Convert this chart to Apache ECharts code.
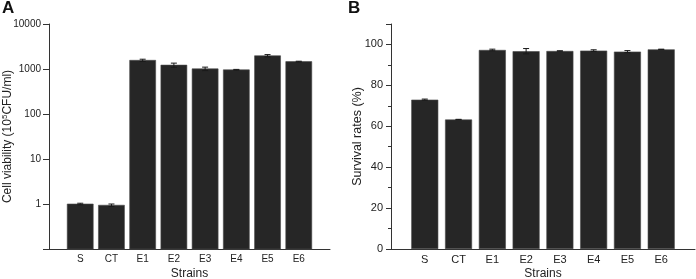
<!DOCTYPE html>
<html>
<head>
<meta charset="utf-8">
<script src="https://cdn.jsdelivr.net/npm/echarts@6/dist/echarts.min.js"></script>
<style>
  html, body { margin: 0; padding: 0; background: #fff; }
  #chart { width: 696px; height: 279px; }
</style>
</head>
<body>
<div id="chart"></div>
<script>
    // strains on the x axis, drawn at positions 1..8
    const strains = ['S', 'CT', 'E1', 'E2', 'E3', 'E4', 'E5', 'E6']
    // panel A: cell viability (10^5 CFU/ml), log scale
    const viability = [1.0, 0.94, 1560, 1220, 1010, 960, 1970, 1460]
    const viabilityErr = [0.04, 0.06, 90, 130, 90, 20, 120, 30]
    // panel B: survival rates (%)
    const survival = [73.0, 63.3, 97.3, 96.7, 96.8, 97.0, 96.5, 97.6]
    const survivalErr = [0.3, 0.1, 0.4, 1.3, 0.1, 0.4, 0.5, 0.1]

    const font = 'Liberation Sans, Arial, sans-serif'
    const barColor = '#262626'
    const logMin = 0.1

    let chart = echarts.init(document.getElementById('chart'))

    let barData = (vals) => vals.map((v, i) => [i + 1, v])
    let errData = (vals, errs) => vals.map((v, i) => [i + 1, v - errs[i], v + errs[i]])

    // bars on the log axis have to start at the bottom of the axis, not at 1
    let logBarRender = (params, api) => {
        let x = api.value(0)
        let top = api.coord([x, api.value(1)])
        let base = api.coord([x, logMin])
        let w = 26
        return {
            type: 'rect',
            shape: { x: top[0] - w / 2, y: top[1], width: w, height: base[1] - top[1] },
            style: { fill: barColor, stroke: '#4a4a4a', lineWidth: 0.6 }
        }
    }

    // error bars with small caps
    let errRender = (params, api) => {
        let x = api.value(0)
        let lo = api.coord([x, api.value(1)])
        let hi = api.coord([x, api.value(2)])
        let cap = 3
        let style = { stroke: '#1a1a1a', lineWidth: 1 }
        return {
            type: 'group',
            children: [
                { type: 'line', shape: { x1: lo[0], y1: lo[1], x2: hi[0], y2: hi[1] }, style: style },
                { type: 'line', shape: { x1: lo[0] - cap, y1: lo[1], x2: lo[0] + cap, y2: lo[1] }, style: style },
                { type: 'line', shape: { x1: hi[0] - cap, y1: hi[1], x2: hi[0] + cap, y2: hi[1] }, style: style }
            ]
        }
    }

    let xAxisOf = (gridIndex, labelSize) => ({
        type: 'value',
        gridIndex: gridIndex,
        min: 0,
        max: 9,
        interval: 1,
        name: 'Strains',
        nameLocation: 'middle',
        nameGap: 19,
        nameMoveOverlap: false,
        nameTextStyle: { fontFamily: font, fontSize: 12, color: '#222' },
        axisLine: { lineStyle: { color: '#333', width: 1 } },
        axisTick: { show: false },
        splitLine: { show: false },
        axisLabel: {
            margin: 5,
            fontFamily: font,
            fontSize: labelSize,
            color: '#222',
            formatter: (v) => strains[v - 1] || ''
        }
    })

    const option = {
        animation: false,
        title: [
            { text: 'A', left: 2, top: 0, padding: 0, textStyle: { fontFamily: font, fontSize: 17, fontWeight: 'bold', color: '#111' } },
            { text: 'B', left: 348, top: 0, padding: 0, textStyle: { fontFamily: font, fontSize: 17, fontWeight: 'bold', color: '#111' } }
        ],
        grid: [
            { left: 49, top: 24, width: 281, height: 225, outerBoundsMode: 'none' },
            { left: 391, top: 24, width: 304, height: 225, outerBoundsMode: 'none' }
        ],
        xAxis: [xAxisOf(0, 10), xAxisOf(1, 11)],
        yAxis: [
            {
                type: 'log',
                gridIndex: 0,
                logBase: 10,
                min: logMin,
                max: 10000,
                name: '{a|Cell viability (10}{s|5}{a|CFU/ml)}',
                nameLocation: 'middle',
                nameGap: 34,
                nameMoveOverlap: false,
                nameTextStyle: {
                    rich: {
                        a: { fontFamily: font, fontSize: 12, color: '#222', lineHeight: 14 },
                        s: { fontFamily: font, fontSize: 8, color: '#222', verticalAlign: 'top', lineHeight: 14 }
                    }
                },
                axisLine: { show: true, lineStyle: { color: '#333', width: 1 } },
                axisTick: { show: true, length: 6, lineStyle: { color: '#333' } },
                splitLine: { show: false },
                axisLabel: {
                    margin: 8,
                    fontFamily: font,
                    fontSize: 10,
                    color: '#222',
                    formatter: (v) => (v >= 1 ? String(Math.round(v)) : '')
                }
            },
            {
                type: 'value',
                gridIndex: 1,
                min: 0,
                max: 110,
                interval: 20,
                name: 'Survival rates (%)',
                nameLocation: 'middle',
                nameGap: 27,
                nameMoveOverlap: false,
                nameTextStyle: { fontFamily: font, fontSize: 12.5, color: '#222' },
                axisLine: { show: true, lineStyle: { color: '#333', width: 1 } },
                axisTick: { show: true, length: 5, lineStyle: { color: '#333' } },
                minorTick: { show: true, splitNumber: 2, length: 3, lineStyle: { color: '#333' } },
                splitLine: { show: false },
                axisLabel: {
                    margin: 8,
                    fontFamily: font,
                    fontSize: 11,
                    color: '#222',
                    formatter: (v) => (v <= 100 ? String(v) : '')
                }
            }
        ],
        series: [
            {
                type: 'custom',
                xAxisIndex: 0,
                yAxisIndex: 0,
                renderItem: logBarRender,
                data: barData(viability),
                z: 2
            },
            {
                type: 'custom',
                xAxisIndex: 0,
                yAxisIndex: 0,
                renderItem: errRender,
                data: errData(viability, viabilityErr),
                z: 5
            },
            {
                type: 'bar',
                xAxisIndex: 1,
                yAxisIndex: 1,
                barWidth: 27,
                data: barData(survival),
                itemStyle: { color: barColor, borderColor: '#4a4a4a', borderWidth: 0.6 }
            },
            {
                type: 'custom',
                xAxisIndex: 1,
                yAxisIndex: 1,
                renderItem: errRender,
                data: errData(survival, survivalErr),
                z: 5
            }
        ]
    };

    // 绘制图表
    chart.setOption(option)
</script>
</body>
</html>
